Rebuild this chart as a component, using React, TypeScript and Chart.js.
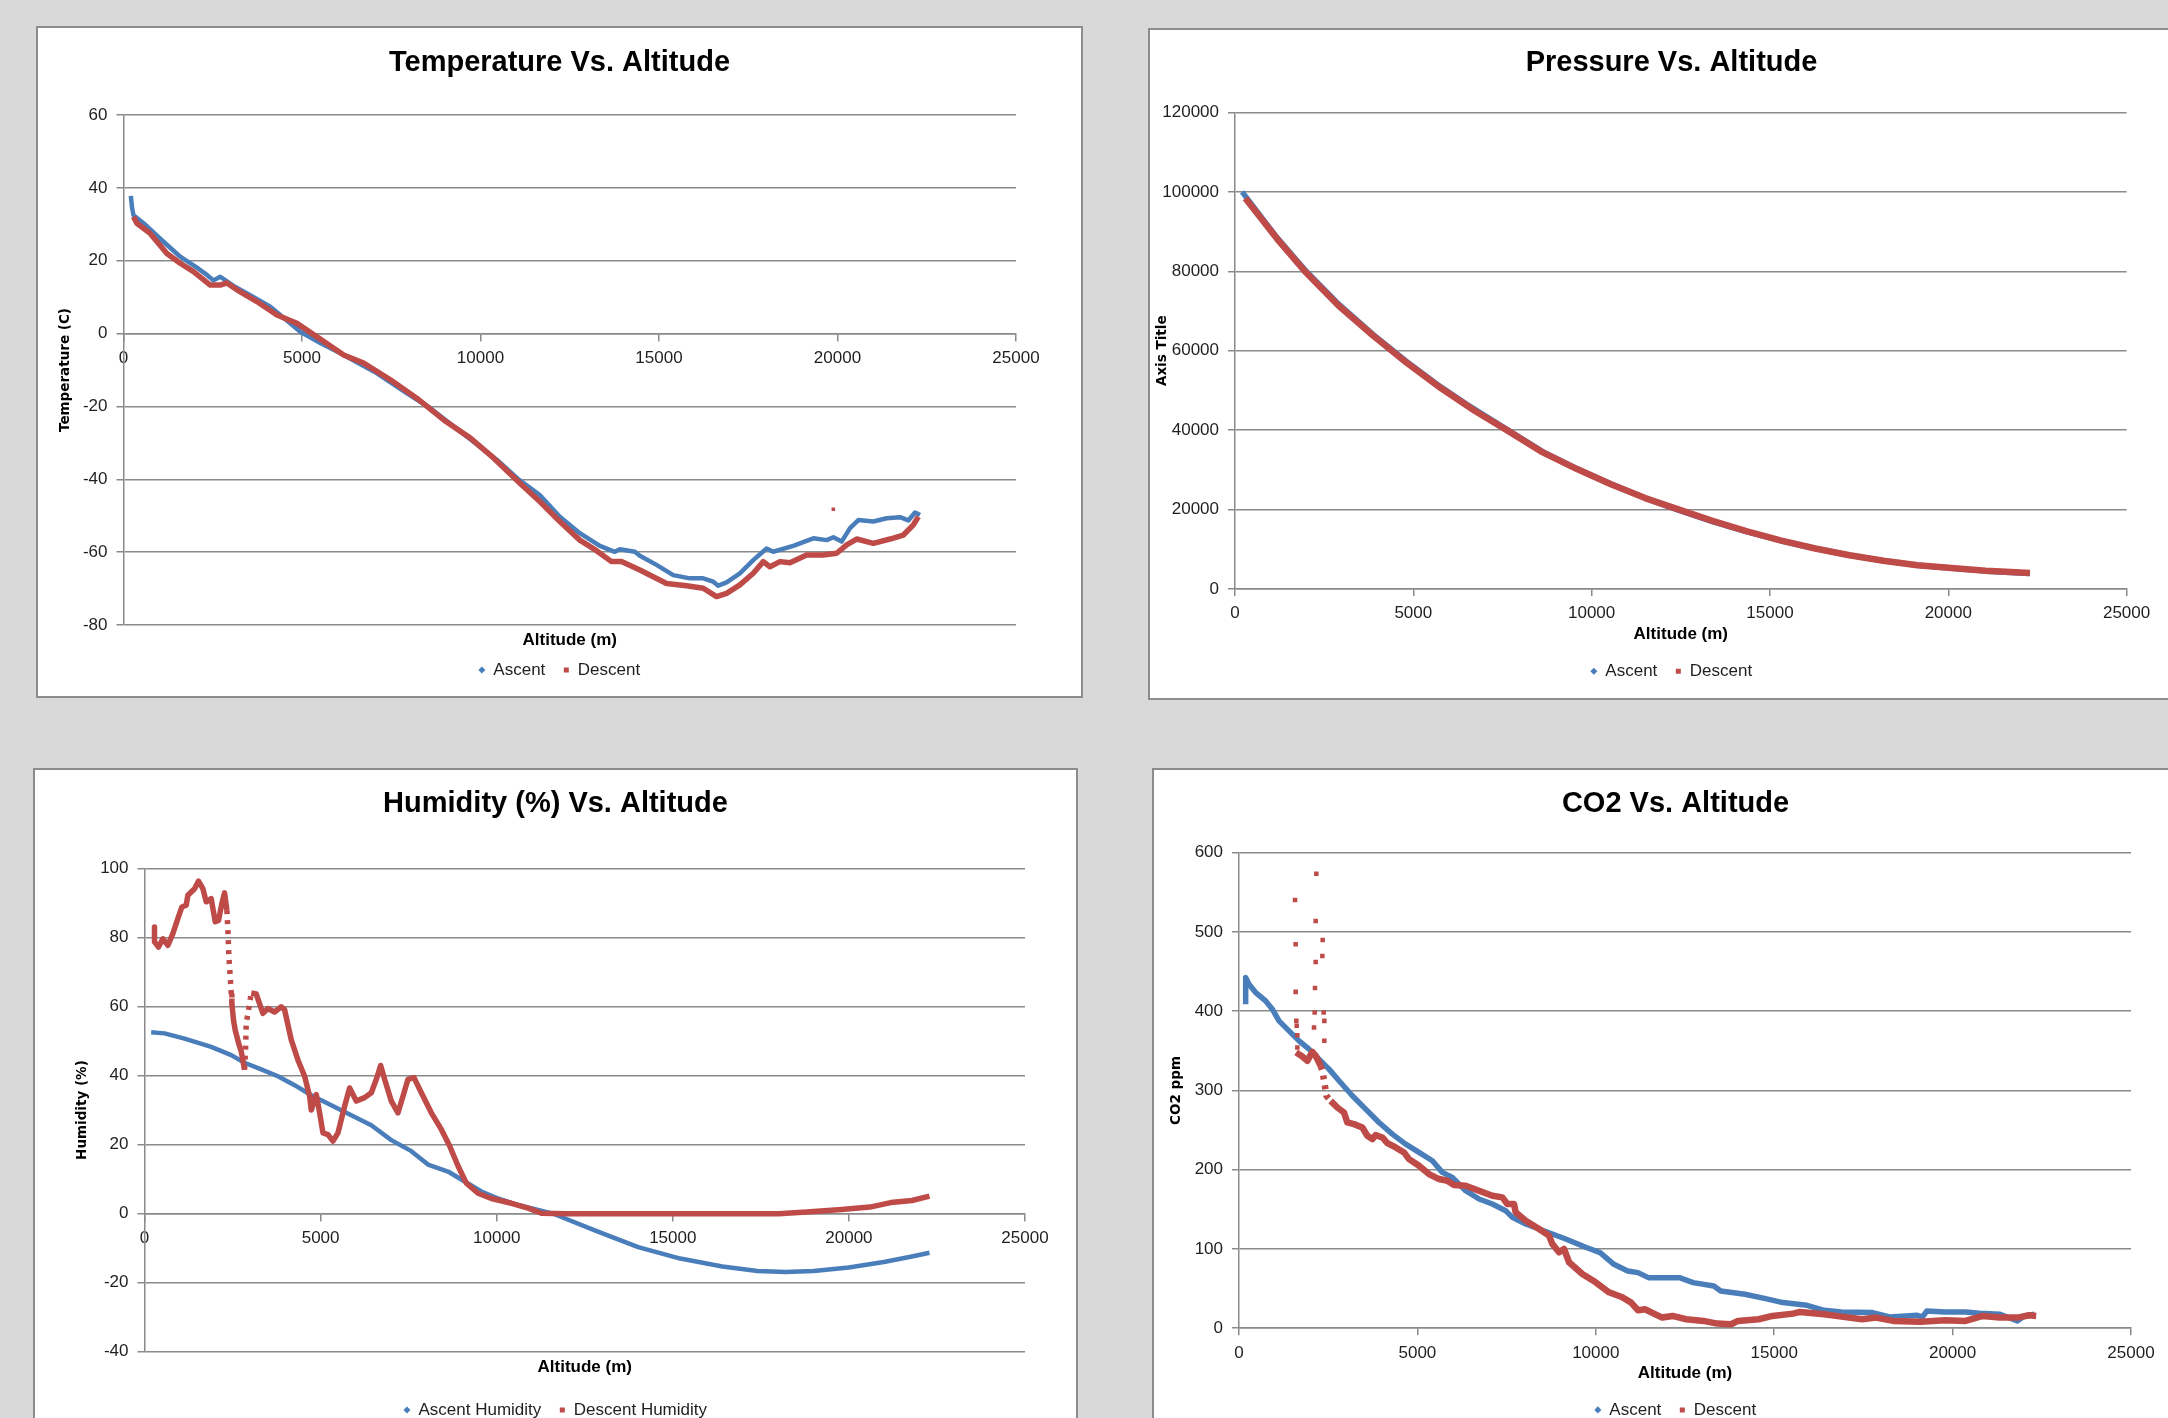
import React, { useEffect, useRef } from 'react';
import { Chart, registerables } from 'chart.js';

Chart.register(...registerables);

type Pt = [number, number];

// ---------- axis ticks ----------
const altitudeTicks = [0, 5000, 10000, 15000, 20000, 25000];
const tempTicks = [-80, -60, -40, -20, 0, 20, 40, 60];
const pressureTicks = [0, 20000, 40000, 60000, 80000, 100000, 120000];
const humidityTicks = [-40, -20, 0, 20, 40, 60, 80, 100];
const co2Ticks = [0, 100, 200, 300, 400, 500, 600];

// ---------- Temperature (C) vs altitude (m) ----------
const tempAscent: Pt[] = [
  [205, 37.8], [240, 34.5], [280, 32.5], [561, 30.3], [1121, 25.2], [1588, 21.1], [2100, 17.8],
  [2336, 16.1], [2520, 14.6], [2710, 15.6], [3083, 13.1], [3500, 10.8], [4112, 7.4], [4953, 0.5],
  [5500, -2.5], [6075, -5.4], [7101, -10.9], [7942, -16.4], [8597, -20.5], [9623, -28.3],
  [10464, -34.7], [11073, -40.1], [11661, -44.3], [12222, -50.3], [12782, -54.8], [13343, -58.3],
  [13763, -59.9], [13903, -59.2], [14324, -59.9], [14464, -61.0], [14931, -63.5], [15398, -66.3],
  [15865, -67.2], [16239, -67.2], [16519, -68.1], [16659, -69.2], [16893, -68.3], [17266, -65.8],
  [17640, -62.2], [18014, -59.0], [18200, -59.9], [18761, -58.3], [19322, -56.2], [19696, -56.7],
  [19883, -55.9], [20117, -57.1], [20350, -53.4], [20584, -51.2], [21004, -51.6], [21378, -50.7],
  [21752, -50.4], [21985, -51.3], [22172, -49.1], [22312, -49.8],
];
const tempDescent: Pt[] = [
  [280, 32.1], [374, 30.3], [747, 27.5], [1215, 22.0], [1588, 19.3], [1962, 17.0], [2430, 13.3],
  [2710, 13.3], [2897, 13.9], [3177, 12.0], [3737, 8.8], [4298, 5.1], [4858, 2.8], [5419, -0.9],
  [6167, -5.9], [6728, -8.1], [7475, -12.7], [8223, -17.8], [8970, -23.7], [9718, -28.7],
  [10372, -34.2], [11150, -41.5], [11661, -46.1], [12222, -51.6], [12782, -56.7], [13250, -59.6],
  [13670, -62.6], [13950, -62.6], [14464, -64.9], [15212, -68.6], [15772, -69.2], [16239, -69.9],
  [16612, -72.2], [16893, -71.3], [17266, -69.0], [17640, -65.8], [17920, -62.6], [18107, -64.0],
  [18388, -62.6], [18668, -62.9], [19135, -60.8], [19602, -60.8], [19976, -60.3], [20256, -58.0],
  [20537, -56.4], [21004, -57.6], [21472, -56.4], [21845, -55.3], [22125, -52.5], [22265, -50.3],
];
const tempDescentStray: Pt[] = [[19883, -48.2]];

// ---------- Pressure (Pa) vs altitude (m) ----------
const pressureAscent: Pt[] = [
  [200, 100000], [1180, 88500], [1950, 80500], [2900, 71800], [3860, 64200], [4810, 57300],
  [5770, 50900], [6500, 46500], [7680, 39900], [8630, 34600], [9590, 30300], [10540, 26500],
  [11500, 22900], [12450, 19800], [13410, 16900], [14360, 14400], [15320, 12100], [16270, 10200],
  [17230, 8500], [18180, 7100], [19140, 6000], [20090, 5200], [21050, 4500], [22290, 3900],
];
const pressureDescent: Pt[] = [
  [290, 98400], [1180, 88200], [1950, 80100], [2900, 71400], [3860, 63900], [4810, 57000],
  [5770, 50600], [6720, 44900], [7680, 39700], [8630, 34400], [9590, 30200], [10540, 26400],
  [11500, 22900], [12450, 20000], [13410, 17100], [14360, 14500], [15320, 12200], [16270, 10200],
  [17230, 8500], [18180, 7100], [19140, 6000], [20090, 5300], [21050, 4600], [22290, 4000],
];

// ---------- Humidity (%) vs altitude (m) ----------
const humidityAscent: Pt[] = [
  [189, 52.5], [568, 52.2], [1136, 50.7], [1894, 48.3], [2462, 45.9], [2841, 43.7], [3315, 41.8],
  [3788, 39.8], [4262, 37.2], [4735, 34.3], [5303, 31.4], [5871, 28.5], [6440, 25.6], [7008, 21.3],
  [7576, 18.1], [8050, 14.2], [8618, 12.2], [9091, 9.3], [9565, 6.4], [10038, 4.4], [10606, 2.5],
  [11175, 1.1], [11625, -0.1], [12821, -5.0], [14017, -9.7], [15213, -13.0], [16407, -15.3],
  [17404, -16.6], [18202, -16.9], [18998, -16.6], [19995, -15.6], [20992, -14.0], [21790, -12.4],
  [22288, -11.3],
];
const humidityDescent: Pt[] = [
  [284, 83.0], [284, 78.7], [398, 77.2], [521, 79.6], [663, 77.7], [805, 81.1], [947, 85.4],
  [1061, 88.8], [1184, 89.3], [1231, 92.2], [1421, 94.1], [1534, 96.3], [1657, 94.1], [1752, 90.3],
  [1894, 91.2], [2008, 84.5], [2102, 84.9], [2197, 89.8], [2273, 92.9], [2339, 87.9], [2368, 82.1],
  [2396, 74.4], [2434, 68.6], [2462, 63.9], [2481, 60.8], [2528, 56.0], [2576, 53.1], [2671, 49.4],
  [2746, 47.0], [2841, 41.7], [2869, 47.5], [2888, 55.1], [2983, 60.8], [3030, 63.9], [3172, 63.6],
  [3362, 58.0], [3504, 59.4], [3693, 58.4], [3883, 59.9], [3977, 59.1], [4167, 50.3], [4356, 44.5],
  [4546, 39.8], [4688, 34.0], [4735, 30.0], [4877, 34.5], [4972, 29.2], [5066, 23.4], [5209, 22.9],
  [5351, 21.0], [5493, 23.4], [5682, 31.1], [5824, 36.4], [6013, 32.6], [6250, 33.6], [6440, 35.0],
  [6582, 38.9], [6705, 42.9], [6818, 38.9], [7008, 32.6], [7197, 29.2], [7339, 34.0], [7481, 38.9],
  [7652, 39.4], [7860, 35.0], [8144, 29.2], [8428, 24.4], [8665, 19.6], [8902, 13.8], [9139, 8.8],
  [9470, 5.9], [9849, 4.4], [10417, 3.0], [10891, 1.6], [11269, 0.1], [12000, 0], [14000, 0],
  [16000, 0], [18000, 0], [18800, 0.5], [19796, 1.2], [20594, 1.9], [21191, 3.2], [21790, 3.8],
  [22288, 5.1],
];

// ---------- CO2 (ppm) vs altitude (m) ----------
const co2Ascent: Pt[] = [
  [187, 408.8], [187, 442.4], [280, 434], [467, 423.5], [747, 413], [934, 402.5], [1121, 387.8],
  [1401, 375.2], [1682, 362.6], [1962, 352.1], [2242, 339.5], [2523, 326.9], [2803, 312.2],
  [3177, 293.3], [3550, 276.4], [3924, 259.6], [4298, 244.9], [4671, 232.3], [5045, 221.8],
  [5419, 211.3], [5699, 196.6], [5980, 190.3], [6353, 173.5], [6727, 163], [7101, 156.7],
  [7474, 148.3], [7661, 139.9], [8035, 131.5], [8409, 125.2], [8782, 118.9], [9156, 112.6],
  [9717, 102.1], [10121, 95.3], [10507, 80.6], [10894, 72.2], [11184, 70.1], [11473, 63.8],
  [12343, 63.8], [12729, 57.5], [13309, 53.3], [13502, 47.0], [14179, 42.8], [14758, 37.3],
  [15242, 32.3], [15918, 28.9], [16401, 22.6], [16884, 20.5], [17754, 19.7], [18237, 14.2],
  [19010, 16.3], [19155, 14.2], [19280, 21.8], [19783, 20.5], [20362, 20.5], [20749, 18.8],
  [21329, 17.6], [21812, 9.2], [22005, 15.5], [22295, 17.6],
];
const co2Descent: Pt[] = [
  [1600, 348], [1775, 342.8], [1915, 337.4], [2055, 348.7], [2149, 343.7], [2289, 331.1],
  [2336, 324.8], [2401, 308], [2448, 293.3], [2569, 286.9], [2756, 278.5], [2943, 272.2],
  [3036, 259.6], [3223, 257.5], [3457, 253.3], [3597, 242.8], [3737, 238.6], [3831, 243.7],
  [4017, 240.7], [4158, 233.6], [4391, 228.1], [4625, 221.8], [4765, 213.4], [5045, 205],
  [5325, 194.5], [5606, 188.2], [5839, 186.1], [6026, 180.6], [6353, 179.8], [6727, 173.5],
  [7101, 167.2], [7381, 165.1], [7521, 156.7], [7708, 156.7], [7755, 146.2], [8035, 135.7],
  [8409, 125.2], [8689, 116.8], [8782, 106.3], [8969, 95.8], [9109, 100], [9250, 83.2],
  [9623, 68.4], [9997, 57.9], [10371, 45.3], [10744, 39.0], [10990, 32.3], [11184, 22.6],
  [11377, 23.9], [11860, 13.4], [12150, 15.5], [12536, 11.3], [13019, 9.2], [13405, 5.8],
  [13792, 5.0], [13985, 9.2], [14565, 11.3], [14952, 15.5], [15531, 18.4], [15725, 20.5],
  [16401, 17.6], [16884, 14.6], [17464, 11.3], [17850, 13.4], [18333, 9.2], [19106, 8.0],
  [19783, 10.0], [20362, 9.2], [20845, 15.5], [21329, 13.4], [21812, 13.4], [22150, 16.3],
  [22343, 15.5],
];
const co2DescentStray: Pt[] = [
  [1570, 540.3], [1588, 484.4], [1588, 424.4], [1607, 387.8], [1616, 381.5], [1635, 369.7],
  [1635, 354.2], [2168, 573.5], [2149, 513.9], [2345, 489.9], [2336, 469.7], [2149, 462.2],
  [2130, 429.4], [2121, 398.3], [2102, 379.4], [2373, 398.3], [2392, 387.8], [2392, 362.6],
];

// ---------- styling ----------
const FONT = "'Liberation Sans', Arial, sans-serif";
const YTITLE_FONT = "'DejaVu Sans', Verdana, sans-serif";
const BLUE = '#4A7EBB';
const RED = '#BE4B48';
const GRID = '#8A8A8A';
const TEXT = '#1F1F1F';

Chart.defaults.font.family = FONT;

interface Series {
  label: string;
  data: Pt[];
  color: string;
  style: 'rectRot' | 'rect';
  width: number;
  legend: boolean;
  line: boolean;
  dash?: [number, number][];
}

interface Layout {
  yW: number; right: number; bottom: number; titleTop: number; titleBottom: number;
  yTitlePad: number; xPad: number; xH?: number; subTop?: number; subBottom?: number;
}

interface PanelSpec {
  left: number; top: number; w: number; h: number;
  title: string; yTitle: string; yTicks: number[]; xDynamic: boolean;
  series: Series[]; layout: Layout;
}

const panels: PanelSpec[] = [
  {
    left: 36, top: 26, w: 1047, h: 672,
    title: 'Temperature Vs. Altitude', yTitle: 'Temperature (C)', yTicks: tempTicks, xDynamic: true,
    series: [
      { label: 'Ascent', data: tempAscent, color: BLUE, style: 'rectRot', width: 4.5, legend: true, line: true },
      { label: 'Descent', data: tempDescent, color: RED, style: 'rect', width: 5.5, legend: true, line: true },
      { label: 'stray', data: tempDescentStray, color: RED, style: 'rect', width: 2.5, legend: false, line: false },
    ],
    layout: { yW: 85.5, right: 65, bottom: 7.5, titleTop: 17.6, titleBottom: 34.6, yTitlePad: 19.1, xPad: 7.3, subTop: 5.3, subBottom: -7.2 },
  },
  {
    left: 1148, top: 28, w: 1047, h: 672,
    title: 'Pressure Vs. Altitude', yTitle: 'Axis Title', yTicks: pressureTicks, xDynamic: false,
    series: [
      { label: 'Ascent', data: pressureAscent, color: BLUE, style: 'rectRot', width: 5.5, legend: true, line: true },
      { label: 'Descent', data: pressureDescent, color: RED, style: 'rect', width: 6.5, legend: true, line: true },
    ],
    layout: { yW: 85, right: 66.4, bottom: 8.3, titleTop: 15.6, titleBottom: 32.1, yTitlePad: 4.6, xPad: 6.8, xH: 55.7 },
  },
  {
    left: 33, top: 768, w: 1045, h: 672,
    title: 'Humidity (%) Vs. Altitude', yTitle: 'Humidity (%)', yTicks: humidityTicks, xDynamic: true,
    series: [
      { label: 'Ascent Humidity', data: humidityAscent, color: BLUE, style: 'rectRot', width: 4.5, legend: true, line: true },
      { label: 'Descent Humidity', data: humidityDescent, color: RED, style: 'rect', width: 5.5, legend: true, line: true, dash: [[2339, 2470], [2841, 2990]] },
    ],
    layout: { yW: 109.5, right: 51, bottom: 9.5, titleTop: 16.5, titleBottom: 47, yTitlePad: 39.7, xPad: 7.8, subTop: 4.9, subBottom: 6.4 },
  },
  {
    left: 1152, top: 768, w: 1047, h: 672,
    title: 'CO2 Vs. Altitude', yTitle: 'CO2 ppm', yTicks: co2Ticks, xDynamic: false,
    series: [
      { label: 'Ascent', data: co2Ascent, color: BLUE, style: 'rectRot', width: 5.5, legend: true, line: true },
      { label: 'Descent', data: co2Descent, color: RED, style: 'rect', width: 6.5, legend: true, line: true, dash: [[2289, 2450]] },
      { label: 'stray', data: co2DescentStray, color: RED, style: 'rect', width: 3.2, legend: false, line: false },
    ],
    layout: { yW: 85, right: 66, bottom: 9.6, titleTop: 16.5, titleBottom: 31.4, yTitlePad: 14.2, xPad: 7.7, xH: 55.2 },
  },
];

function inRanges(x: number, ranges: [number, number][]) {
  return ranges.some(([a, b]) => x >= a && x < b);
}

function buildConfig(p: PanelSpec): any {
  const L = p.layout;
  const yMin = p.yTicks[0];
  const yMax = p.yTicks[p.yTicks.length - 1];
  const yStep = p.yTicks[1] - p.yTicks[0];
  const xMin = altitudeTicks[0];
  const xMax = altitudeTicks[altitudeTicks.length - 1];
  const xStep = altitudeTicks[1] - altitudeTicks[0];
  const n = p.series.length;
  const datasets = p.series.map((s, i) => ({
    label: s.label,
    data: s.data.map(([x, y]) => ({ x, y })),
    showLine: s.line,
    borderColor: s.color,
    backgroundColor: s.color,
    borderWidth: s.line ? s.width : 0,
    pointRadius: s.line ? 0 : s.width,
    pointHoverRadius: 0,
    pointStyle: s.style,
    pointBorderWidth: 0,
    borderJoinStyle: 'round',
    borderCapStyle: 'butt',
    tension: 0,
    order: n - i,
    inLegend: s.legend,
    legendStyle: s.style,
    segment: s.dash
      ? { borderDash: (ctx: any) => (inRanges(ctx.p0.parsed.x, s.dash!) ? [4, 6] : undefined) }
      : undefined,
  }));

  const tickFont = { family: FONT, size: 17 };
  const boldFont = { family: FONT, size: 17, weight: 'bold' };

  return {
    type: 'scatter',
    data: { datasets },
    options: {
      responsive: false,
      animation: false,
      devicePixelRatio: 1,
      events: [],
      layout: { padding: { left: 0, right: 0, top: 0, bottom: L.bottom } },
      plugins: {
        tooltip: { enabled: false },
        title: {
          display: true, text: p.title, color: '#000',
          font: { family: FONT, size: 29, weight: 'bold' },
          padding: { top: L.titleTop, bottom: L.titleBottom },
        },
        subtitle: p.xDynamic
          ? {
              display: true, text: 'Altitude (m)', position: 'bottom', fullSize: false, weight: 500,
              color: '#000', font: boldFont, padding: { top: L.subTop, bottom: L.subBottom },
            }
          : { display: false },
        legend: {
          display: true,
          position: 'bottom',
          labels: {
            usePointStyle: true,
            boxWidth: 6,
            boxHeight: 5,
            padding: 18,
            color: TEXT,
            font: tickFont,
            generateLabels: (chart: any) =>
              chart.data.datasets
                .map((d: any, i: number) => ({
                  text: d.label,
                  fillStyle: d.backgroundColor,
                  strokeStyle: d.borderColor,
                  lineWidth: 0,
                  pointStyle: d.legendStyle,
                  hidden: false,
                  datasetIndex: i,
                  fontColor: TEXT,
                  inLegend: d.inLegend,
                }))
                .filter((it: any) => it.inLegend),
          },
        },
      },
      scales: {
        x: {
          type: 'linear',
          min: xMin,
          max: xMax,
          position: p.xDynamic ? { y: 0 } : 'bottom',
          ticks: {
            stepSize: xStep, callback: (v: number) => String(v), color: TEXT, font: tickFont,
            padding: L.xPad, maxRotation: 0, autoSkip: false,
          },
          grid: { drawOnChartArea: false, drawTicks: true, tickLength: 7, color: GRID, lineWidth: 1.5 },
          border: { display: true, color: GRID, width: 1.5 },
          title: p.xDynamic
            ? { display: false }
            : { display: true, text: 'Altitude (m)', color: '#000', font: boldFont, padding: { top: 0, bottom: 0 } },
          afterFit: p.xDynamic ? undefined : (s: any) => { s.height = L.xH; },
        },
        y: {
          type: 'linear',
          min: yMin,
          max: yMax,
          ticks: { stepSize: yStep, callback: (v: number) => String(v), color: TEXT, font: tickFont, padding: 9 },
          grid: { color: GRID, lineWidth: 1.5, tickLength: 7, drawTicks: true },
          border: { display: true, color: GRID, width: 1.5 },
          title: {
            display: true, text: p.yTitle, color: '#000',
            font: { family: YTITLE_FONT, size: 13.5, weight: 'bold' },
            padding: { top: L.yTitlePad, bottom: 0 },
          },
          afterFit: (s: any) => { s.width = L.yW; },
        },
        // empty right-hand spacer so the title and legend stay centred on the whole panel
        spacer: {
          type: 'linear',
          axis: 'y',
          position: 'right',
          display: true,
          ticks: { display: false },
          grid: { display: false, drawTicks: false },
          border: { display: false },
          afterFit: (s: any) => { s.width = L.right; },
        },
      },
    },
  };
}

function ChartPanel({ spec }: { spec: PanelSpec }) {
  const ref = useRef<HTMLCanvasElement>(null);
  useEffect(() => {
    if (!ref.current) return;
    const chart = new Chart(ref.current, buildConfig(spec));
    return () => chart.destroy();
  }, [spec]);
  const cw = spec.w - 4;
  const ch = spec.h - 4;
  return (
    <div
      style={{
        position: 'absolute', left: spec.left, top: spec.top, width: spec.w, height: spec.h,
        boxSizing: 'border-box', border: '2px solid #8C8C8C', background: '#FFFFFF',
      }}
    >
      <canvas ref={ref} width={cw} height={ch} style={{ display: 'block', width: cw, height: ch }} />
    </div>
  );
}

export default function App() {
  return (
    <div
      style={{
        position: 'fixed', left: 0, top: 0, width: 2168, height: 1418,
        background: '#D9D9D9', overflow: 'hidden',
      }}
    >
      {panels.map((p) => (
        <ChartPanel key={p.title} spec={p} />
      ))}
    </div>
  );
}
